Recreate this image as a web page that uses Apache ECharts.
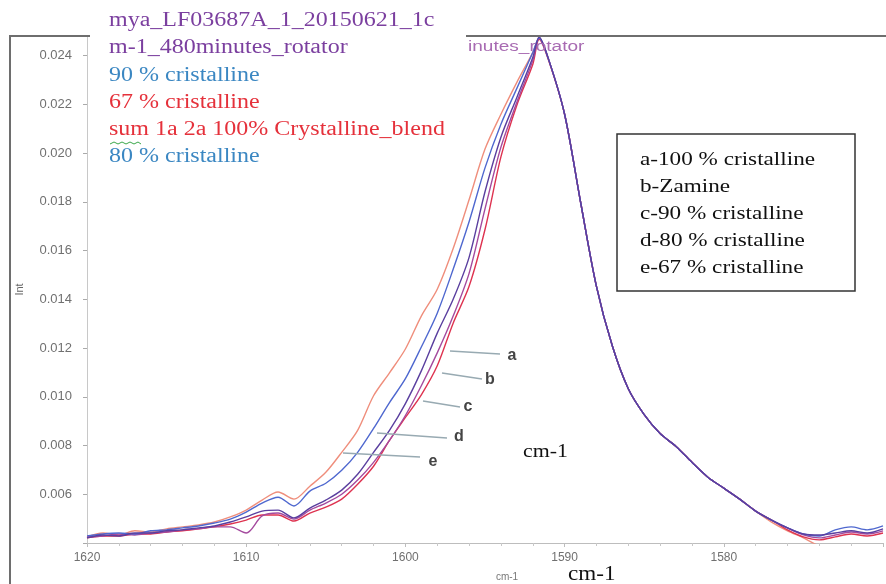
<!DOCTYPE html>
<html>
<head>
<meta charset="utf-8">
<title>Raman spectra</title>
<script src="https://cdn.jsdelivr.net/npm/echarts@6/dist/echarts.min.js"></script>
<style>
  html, body { margin: 0; padding: 0; background: #fff; }
  #main { width: 886px; height: 584px; }
</style>
</head>
<body>
<div id="main"></div>
<script>
  // wavenumbers (cm-1), shared by all curves
  var wavenumbers = [1620, 1619, 1618, 1617, 1616, 1615, 1614, 1613, 1612, 1611,
    1610, 1609, 1608, 1607, 1606, 1605, 1604, 1603, 1602, 1601,
    1600, 1599, 1598, 1597, 1596, 1595, 1594, 1593, 1592, 1591.6,
    1591, 1590, 1589, 1588, 1587, 1586, 1585, 1584, 1583, 1582,
    1581, 1580, 1579, 1578, 1577, 1576, 1575, 1574, 1573, 1572, 1571, 1570];

  // a - 100 % cristalline
  var curveA = [0.00421, 0.00429, 0.00429, 0.00437, 0.00437, 0.00445, 0.0045, 0.00458, 0.00466, 0.00478,
    0.00494, 0.00515, 0.00515, 0.0049, 0.00523, 0.00547, 0.0058, 0.00641, 0.00715, 0.00821,
    0.00915, 0.01008, 0.01127, 0.01302, 0.01453, 0.01686, 0.01984, 0.02196, 0.02363, 0.02466,
    0.02379, 0.02159, 0.018, 0.01453, 0.01208, 0.01033, 0.00927, 0.00849, 0.00796, 0.00731,
    0.0067, 0.00625, 0.0058, 0.00531, 0.00494, 0.00454, 0.00425, 0.00413, 0.00425, 0.00437, 0.00429, 0.00441];
  // b - Zamine
  var curveB = [0.00425, 0.00429, 0.00437, 0.00433, 0.00441, 0.00445, 0.00454, 0.00458, 0.00466, 0.00466,
    0.00441, 0.00511, 0.00523, 0.00498, 0.00535, 0.00564, 0.006, 0.00658, 0.00731, 0.00821,
    0.00923, 0.01045, 0.0118, 0.01331, 0.01506, 0.01771, 0.02024, 0.02208, 0.02379, 0.02472,
    0.02383, 0.02159, 0.018, 0.01453, 0.01208, 0.01033, 0.00927, 0.00849, 0.00796, 0.00731,
    0.0067, 0.00625, 0.0058, 0.00531, 0.00494, 0.00462, 0.00433, 0.00421, 0.00433, 0.00445, 0.00437, 0.0045];
  // c - 90 % cristalline
  var curveC = [0.00421, 0.00433, 0.00429, 0.00441, 0.00441, 0.0045, 0.00454, 0.00462, 0.0047, 0.00486,
    0.00507, 0.00531, 0.00535, 0.00503, 0.00543, 0.00576, 0.00617, 0.00682, 0.00772, 0.00862,
    0.00972, 0.01106, 0.01261, 0.014, 0.01572, 0.01841, 0.02065, 0.02228, 0.02392, 0.02476,
    0.02383, 0.02159, 0.018, 0.01453, 0.01208, 0.01033, 0.00927, 0.00849, 0.00796, 0.00731,
    0.0067, 0.00625, 0.0058, 0.00531, 0.00494, 0.00462, 0.00437, 0.00433, 0.00441, 0.0045, 0.00441, 0.00458];
  // d - 80 % cristalline
  var curveD = [0.00429, 0.00437, 0.00441, 0.00437, 0.0045, 0.00454, 0.00462, 0.0047, 0.00482, 0.00498,
    0.00527, 0.00564, 0.00588, 0.00552, 0.00613, 0.00645, 0.00698, 0.00772, 0.0087, 0.00976,
    0.01074, 0.01204, 0.01343, 0.01523, 0.01718, 0.01939, 0.02118, 0.02265, 0.02412, 0.02472,
    0.02383, 0.02159, 0.018, 0.01453, 0.01208, 0.01033, 0.00927, 0.00849, 0.00796, 0.00731,
    0.0067, 0.00625, 0.0058, 0.00531, 0.00494, 0.00462, 0.00437, 0.00429, 0.00454, 0.00466, 0.00454, 0.0047];
  // e - 67 % cristalline
  var curveE = [0.00425, 0.00441, 0.00433, 0.0045, 0.00445, 0.00458, 0.00466, 0.00474, 0.00486, 0.00507,
    0.00535, 0.00576, 0.00609, 0.0058, 0.00633, 0.0069, 0.00772, 0.00862, 0.01004, 0.01098,
    0.01196, 0.01331, 0.01441, 0.01608, 0.01808, 0.02016, 0.02159, 0.0229, 0.02412, 0.0247,
    0.02383, 0.02159, 0.018, 0.01453, 0.01208, 0.01033, 0.00927, 0.00849, 0.00796, 0.00731,
    0.0067, 0.00625, 0.0058, 0.00531, 0.00486, 0.0045, 0.00421, 0.00388, 0.00372, 0.0036, 0.00352, 0.00343];

  var seriesNames = ['a-100 % cristalline', 'b-Zamine', 'c-90 % cristalline', 'd-80 % cristalline', 'e-67 % cristalline'];
  var overlayLines = ['mya_LF03687A_1_20150621_1c', 'm-1_480minutes_rotator', '90 % cristalline',
    '67 % cristalline', 'sum 1a 2a 100% Crystalline_blend', '80 % cristalline'];
  var overlayColors = ['#7b3f9f', '#7b3f9f', '#3b87c2', '#e5313b', '#e5313b', '#3b87c2'];

  function pairs(vals) {
    return wavenumbers.map(function (w, i) { return [w, vals[i]]; });
  }

  var myChart = echarts.init(document.getElementById('main'));

  function line(name, vals, color) {
    return {
      name: name,
      type: 'line',
      data: pairs(vals),
      showSymbol: false,
      smooth: 0.3,
      lineStyle: { color: color, width: 1.4 },
      itemStyle: { color: color }
    };
  }

  var graphics = [];
  // outer frame
  graphics.push({ type: 'polyline', z: 20, shape: { points: [[10, 584], [10, 36], [886, 36]] },
    style: { stroke: '#6e6e6e', lineWidth: 2, fill: null } });
  // leftover of original title
  graphics.push({ type: 'text', z: 20, x: 468, y: 47, scaleX: 1.36,
    style: { text: 'inutes_rotator', fill: '#a86bb2', font: '14px "Liberation Sans"', textVerticalAlign: 'middle' } });
  // white pasted box with the legend text
  graphics.push({ type: 'rect', z: 30, shape: { x: 90, y: 0, width: 376, height: 168 }, style: { fill: '#fff' } });
  overlayLines.forEach(function (t, i) {
    graphics.push({ type: 'text', z: 31, x: 109, y: 21 + i * 27.2, scaleX: 1.2,
      style: { text: t, fill: overlayColors[i], font: '20px "Liberation Serif"', textVerticalAlign: 'middle' } });
  });
  graphics.push({ type: 'polyline', z: 32, shape: { points: [[110, 144], [114, 142], [118, 144], [122, 142], [126, 144], [130, 142], [134, 144], [138, 142], [141, 144]] },
    style: { stroke: '#3aa84a', lineWidth: 1, fill: null } });

  // box on the right
  graphics.push({ type: 'rect', z: 30, shape: { x: 617, y: 134, width: 238, height: 157 },
    style: { fill: '#fff', stroke: '#333', lineWidth: 1.5 } });
  seriesNames.forEach(function (t, i) {
    graphics.push({ type: 'text', z: 31, x: 640, y: 160 + i * 27, scaleX: 1.22,
      style: { text: t, fill: '#111', font: '19px "Liberation Serif"', textVerticalAlign: 'middle' } });
  });

  // leader lines a-e
  var leaders = [
    [[450, 351], [500, 354], 'a', 512, 356],
    [[442, 373], [482, 379], 'b', 490, 380],
    [[423, 401], [460, 407], 'c', 468, 407],
    [[377, 433], [447, 438], 'd', 459, 437],
    [[343, 453], [420, 457], 'e', 433, 462]
  ];
  leaders.forEach(function (l) {
    graphics.push({ type: 'line', z: 25, shape: { x1: l[0][0], y1: l[0][1], x2: l[1][0], y2: l[1][1] },
      style: { stroke: '#98aab2', lineWidth: 1.5 } });
    graphics.push({ type: 'text', z: 25, x: l[3], y: l[4],
      style: { text: l[2], fill: '#444', font: 'bold 16px "Liberation Sans"', textAlign: 'center', textVerticalAlign: 'middle' } });
  });

  graphics.push({ type: 'text', z: 25, x: 523, y: 452, scaleX: 1.15,
    style: { text: 'cm-1', fill: '#111', font: '19px "Liberation Serif"', textVerticalAlign: 'middle' } });
  graphics.push({ type: 'text', z: 25, x: 507, y: 577,
    style: { text: 'cm-1', fill: '#777', font: '10px "Liberation Sans"', textAlign: 'center', textVerticalAlign: 'middle' } });
  graphics.push({ type: 'text', z: 25, x: 568, y: 574, scaleX: 1.1,
    style: { text: 'cm-1', fill: '#111', font: '21px "Liberation Serif"', textVerticalAlign: 'middle' } });

  var option = {
    animation: false,
    grid: { left: 87, right: 0, top: 36, bottom: 41 },
    xAxis: {
      type: 'value',
      min: 1570,
      max: 1620,
      interval: 10,
      inverse: true,
      axisLine: { lineStyle: { color: '#bdbdbd' } },
      axisTick: { show: true, length: 4, lineStyle: { color: '#bdbdbd' } },
      minorTick: { show: true, splitNumber: 5, length: 3, lineStyle: { color: '#c8c8c8' } },
      splitLine: { show: false },
      axisLabel: {
        color: '#707070', fontSize: 12, margin: 9, fontFamily: 'Liberation Sans',
        formatter: function (v) { return v === 1570 ? '' : String(v); }
      }
    },
    yAxis: {
      type: 'value',
      min: 0.004,
      max: 0.0248,
      interval: 0.002,
      name: 'Int',
      nameLocation: 'middle',
      nameGap: 62,
      nameTextStyle: { color: '#666', fontSize: 11 },
      axisLine: { show: true, lineStyle: { color: '#c8c8c8' } },
      axisTick: { show: true, length: 4, lineStyle: { color: '#aaa' } },
      splitLine: { show: false },
      axisLabel: {
        color: '#707070', fontSize: 13, margin: 15, fontFamily: 'Liberation Sans',
        formatter: function (v) { return (v < 0.0045 || v > 0.0245) ? '' : v.toFixed(3); }
      }
    },
    graphic: graphics,
    series: [
      line(seriesNames[4], curveE, '#ef8e7c'),
      line(seriesNames[0], curveA, '#de3350'),
      line(seriesNames[1], curveB, '#a44a9e'),
      line(seriesNames[3], curveD, '#4f68cf'),
      line(seriesNames[2], curveC, '#5a3f9f')
    ]
  };

  myChart.setOption(option);
</script>
</body>
</html>
